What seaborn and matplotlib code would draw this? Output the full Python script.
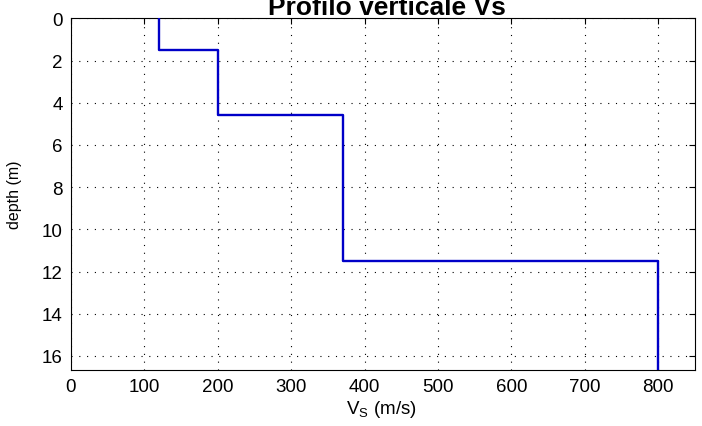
import matplotlib
matplotlib.use("Agg")
import matplotlib.pyplot as plt
import seaborn as sns
import numpy as np
import pandas as pd

# Data: layer boundaries (m) and shear-wave velocities (m/s)
layer_top = [0.0, 1.5, 4.6, 11.5]
layer_bottom = [1.5, 4.6, 11.5, 16.65]
vs_values = [120, 200, 370, 800]
x_ticks = [0, 100, 200, 300, 400, 500, 600, 700, 800]
y_ticks = [0, 2, 4, 6, 8, 10, 12, 14, 16]

sns.set_style("white")
FONT = ['Liberation Sans', 'DejaVu Sans']
plt.rcParams['font.family'] = FONT
plt.rcParams['mathtext.fontset'] = 'custom'
plt.rcParams['mathtext.rm'] = 'Liberation Sans'
plt.rcParams['text.color'] = 'black'
plt.rcParams['axes.labelcolor'] = 'black'

# step profile built from the layer data
xs, ys = [], []
for top, bot, v in zip(layer_top, layer_bottom, vs_values):
    xs += [v, v]
    ys += [top, bot]
df = pd.DataFrame({"Vs": xs, "depth": ys})

W, H = 702, 427
L, R, T, B = 71, 695, 19.3, 370.7
fig = plt.figure(figsize=(W/100, H/100), dpi=100)
ax = fig.add_axes([L/W, 1-B/H, (R-L)/W, (B-T)/H])

sns.lineplot(data=df, x="Vs", y="depth", sort=False, estimator=None,
             color="#0000C8", linewidth=1.7, ax=ax, zorder=3)

ax.set_xlim(0, 850)
ax.set_ylim(layer_bottom[-1], 0)
ax.set_xticks(x_ticks)
ax.set_yticks(y_ticks)
ax.tick_params(direction='in', length=4, width=0.8, top=True, right=True,
               labelsize=13.5, colors='black', pad=6)
ax.grid(True, color='black', linestyle=(0, (1, 6)), linewidth=0.8)
for s in ax.spines.values():
    s.set_visible(True)
    s.set_color('black')
    s.set_linewidth(0.8)

ax.set_xlabel(r'$\mathregular{V_S}$ (m/s)', fontsize=13.5, color='black')
ax.xaxis.set_label_coords(0.497, -(399 - B) / (B - T))
ax.set_ylabel('depth (m)', fontsize=11.5, color='black')
ax.yaxis.set_label_coords((22 - L) / (R - L), 0.5)

fig.text(387/W, 1-15/H, 'Profilo verticale Vs', ha='center', va='baseline',
         fontsize=19, fontweight='bold', color='black')

fig.savefig("out.png", dpi=100, facecolor='white')
